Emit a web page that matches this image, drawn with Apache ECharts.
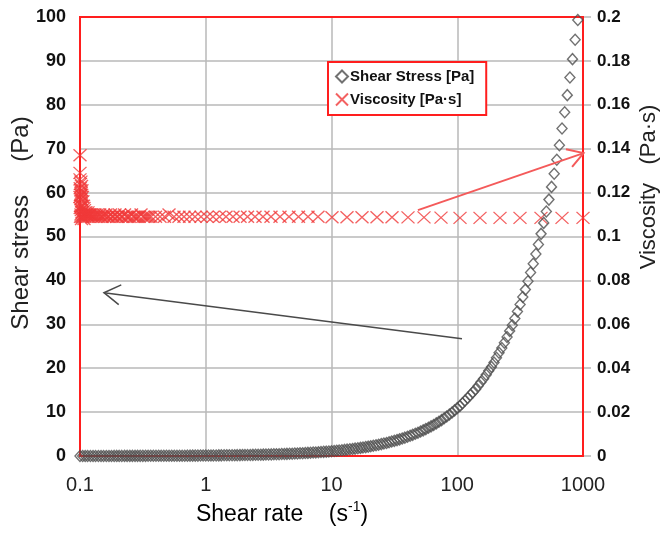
<!DOCTYPE html>
<html><head><meta charset="utf-8">
<script src="https://cdn.jsdelivr.net/npm/echarts/dist/echarts.min.js"></script>
<style>html,body{margin:0;padding:0;background:#fff}#c{width:663px;height:533px}</style>
</head><body><div id="c"></div>
<script>
// Shear stress series (shear rate in 1/s, stress in Pa)
const stressRate = [
0.1,0.105,0.11,0.115,0.121,0.127,0.133,0.14,0.147,0.154,0.162,0.17,0.178,0.187,0.196,0.205,0.215,0.226,0.237,0.249,0.261,0.274,0.287,0.301,0.316,0.332,0.348,0.365,0.383,0.402,0.422,0.442,0.464,0.487,0.511,0.536,0.562,0.59,0.619,0.649,0.681,0.715,0.75,0.787,0.825,0.866,0.909,0.953,
1,1.05,1.1,1.15,1.21,1.27,1.33,1.4,1.47,1.54,1.62,1.7,1.78,1.87,1.96,2.05,2.15,2.26,2.37,2.49,2.61,2.74,2.87,3.01,3.16,3.32,3.48,3.65,3.83,4.02,4.22,4.42,4.64,4.87,5.11,5.36,5.62,5.9,6.19,6.49,6.81,7.15,7.5,7.87,8.25,8.66,9.09,9.53,
10,10.5,11,11.5,12.1,12.7,13.3,14,14.7,15.4,16.2,17,17.8,18.7,19.6,20.5,21.5,22.6,23.7,24.9,26.1,27.4,28.7,30.1,31.6,33.2,34.8,36.5,38.3,40.2,42.2,44.2,46.4,48.7,51.1,53.6,56.2,59,61.9,64.9,68.1,71.5,75,78.7,82.5,86.6,90.9,95.3,
100,105,110,115,121,127,133,140,147,154,162,170,178,187,196,205,215,226,237,249,261,274,287,301,316,332,348,365,383,402,422,442,464,487,511,536,562,590,619,649,681,715,750,787,825,866,909];
const stressVal = [
0.011,0.011,0.012,0.013,0.013,0.014,0.015,0.015,0.016,0.017,0.018,0.018,0.019,0.02,0.021,0.022,0.023,0.025,0.026,0.027,0.028,0.03,0.031,0.033,0.034,0.036,0.038,0.04,0.042,0.044,0.046,0.048,0.051,0.053,0.056,0.058,0.061,0.064,0.067,0.071,0.074,0.078,0.082,0.086,0.09,0.094,0.099,0.104,
0.109,0.114,0.12,0.126,0.132,0.139,0.145,0.152,0.16,0.168,0.176,0.185,0.194,0.203,0.213,0.224,0.235,0.246,0.258,0.271,0.285,0.298,0.313,0.329,0.345,0.362,0.379,0.398,0.418,0.438,0.46,0.482,0.506,0.531,0.557,0.584,0.613,0.643,0.675,0.708,0.743,0.779,0.817,0.858,0.9,0.944,0.99,1.04,
1.09,1.14,1.2,1.26,1.32,1.39,1.45,1.52,1.6,1.68,1.76,1.85,1.94,2.03,2.13,2.24,2.35,2.46,2.58,2.71,2.85,2.98,3.13,3.29,3.45,3.62,3.79,3.98,4.18,4.38,4.6,4.82,5.06,5.31,5.57,5.84,6.13,6.43,6.75,7.08,7.43,7.79,8.17,8.58,9.0,9.44,9.9,10.4,
10.9,11.4,12.0,12.6,13.2,13.9,14.5,15.2,16.0,16.8,17.6,18.5,19.4,20.3,21.3,22.4,23.5,24.6,25.8,27.1,28.5,29.8,31.3,32.9,34.5,36.2,37.9,39.8,41.8,43.8,46.0,48.2,50.6,53.1,55.7,58.4,61.3,64.3,67.5,70.8,74.6,78.3,82.2,86.2,90.4,94.8,99.3];

// Viscosity series (shear rate in 1/s, viscosity in Pa·s)
const viscRate = [
0.1,0.1,0.1,0.1,0.1004,0.1004,0.1009,0.1009,0.1009,0.1013,0.1013,0.1018,0.1018,0.1018,0.1023,0.1023,0.1028,0.1028,0.1028,0.1032,0.1032,0.1037,0.1037,0.1037,
0.1046,0.1046,0.1056,0.1056,0.1066,0.1066,0.1076,0.1076,0.1086,0.1096,0.1096,0.1106,0.1116,0.1126,0.1137,0.1147,0.1158,0.1168,0.1179,0.119,0.1201,
0.1223,0.1246,0.1269,0.1292,0.1316,0.1341,0.1372,0.1403,0.1436,0.1469,0.1503,0.1538,0.1574,0.161,0.1655,0.1701,0.1749,0.1797,0.1847,0.1898,0.1951,0.2005,0.2061,0.2118,0.2188,0.226,0.2334,0.2409,0.2488,0.2568,0.2652,0.2738,0.2841,0.2946,0.3057,0.317,0.3289,0.3411,0.3538,0.3669,
0.3985,0.4328,0.4699,0.5104,0.5592,0.6128,0.6714,0.7428,0.8214,0.9167,1.023,1.142,1.287,1.449,1.647,1.873,2.148,2.465,2.853,3.303,
3.895,4.592,5.465,6.504,7.808,10.09,13.28,17.48,23.01,30.28,40.59,54.4,74.28,105.2,151.7,218.8,315.5,463.4,680.8,1000];
const viscVal = [
0.137,0.129,0.126,0.118,0.122,0.113,0.124,0.119,0.109,0.121,0.114,0.125,0.117,0.110,0.120,0.112,0.123,0.116,0.108,0.119,0.111,0.121,0.114,0.109,
0.118,0.111,0.116,0.109,0.114,0.110,0.113,0.108,0.112,0.111,0.109,0.110,0.111,0.110,0.110,0.109,0.111,0.110,0.109,0.110,0.110,
0.110,0.109,0.110,0.109,0.110,0.109,0.110,0.109,0.110,0.109,0.109,0.110,0.109,0.110,0.109,0.109,0.110,0.109,0.109,0.110,0.109,0.109,0.110,0.109,0.109,0.110,0.109,0.109,0.109,0.110,0.109,0.109,0.109,0.109,0.110,0.109,0.109,0.109,0.109,0.109,
0.109,0.109,0.109,0.110,0.109,0.109,0.109,0.109,0.109,0.109,0.109,0.109,0.109,0.109,0.109,0.109,0.109,0.109,0.109,0.109,
0.109,0.109,0.109,0.109,0.109,0.1088,0.1088,0.1088,0.1088,0.1088,0.1087,0.1087,0.1086,0.1085,0.1085,0.1085,0.1085,0.1085,0.1085,0.1085];

const xTicks = [0.1, 1, 10, 100, 1000];
const leftTicks = [0,10,20,30,40,50,60,70,80,90,100];
const rightTicks = ['0','0.02','0.04','0.06','0.08','0.1','0.12','0.14','0.16','0.18','0.2'];
const seriesNames = ['Shear Stress [Pa]', 'Viscosity [Pa·s]'];

const crossPath = 'path://M0,0L10,10M10,0L0,10';
const chart = echarts.init(document.getElementById('c'), null, {renderer:'canvas'});
const FONT = 'Liberation Sans, Arial, sans-serif';
const RED = '#ff1e1e';

chart.setOption({
  animation: false,
  backgroundColor: '#fff',
  grid: {left: 80, right: 80, top: 17, bottom: 77, show: false, containLabel: false},
  legend: {
    orient: 'vertical', left: 328, top: 62, padding: [7, 12, 8, 7], itemGap: 8,
    backgroundColor: '#fff', borderColor: RED, borderWidth: 2, borderRadius: 0,
    itemWidth: 12, itemHeight: 12, z: 20,
    textStyle: {fontFamily: FONT, fontWeight: 'bold', fontSize: 15, color: '#111', padding: [0,0,0,-3]},
    data: [{name: seriesNames[0], icon: 'diamond'}, {name: seriesNames[1], icon: crossPath}]
  },
  xAxis: {
    type: 'log', logBase: 10, min: xTicks[0], max: xTicks[xTicks.length-1],
    axisLine: {show: false}, axisTick: {show: false},
    axisLabel: {fontFamily: FONT, fontSize: 20, color: '#222', margin: 19, formatter: v => String(xTicks.find(t => Math.abs(Math.log10(t) - Math.log10(v)) < 1e-6) ?? v)},
    splitLine: {show: true, lineStyle: {color: '#b8b8b8', width: 1.5}},
    minorTick: {show: false}
  },
  yAxis: [{
    type: 'value', min: leftTicks[0], max: leftTicks[leftTicks.length-1], interval: 10,
    axisLine: {show: false}, axisTick: {show: false},
    axisLabel: {fontFamily: FONT, fontSize: 18, fontWeight: 'bold', color: '#111', margin: 14},
    splitLine: {show: true, lineStyle: {color: '#b8b8b8', width: 1.5}}
  }, {
    type: 'value', min: 0, max: 0.2, interval: 0.02, position: 'right',
    axisLine: {show: false},
    axisTick: {show: true, length: 8, inside: false, lineStyle: {color: '#b8b8b8', width: 1.5}},
    axisLabel: {fontFamily: FONT, fontSize: 17, fontWeight: 'bold', color: '#111', margin: 14,
      formatter: (v, i) => rightTicks[i]},
    splitLine: {show: false}
  }],
  series: [{
    name: seriesNames[0], type: 'scatter', yAxisIndex: 0, symbol: 'diamond', symbolSize: [10, 11],
    itemStyle: {color: 'rgba(255,255,255,0)', borderColor: '#4d4d4d', borderWidth: 1.4},
    data: stressRate.map((r, i) => [r, stressVal[i]]), z: 4
  }, {
    name: seriesNames[1], type: 'scatter', yAxisIndex: 1, symbol: crossPath, symbolSize: [13, 12],
    itemStyle: {color: 'rgba(255,255,255,0)', borderColor: '#f03a3a', borderWidth: 1.3},
    data: viscRate.map((r, i) => [r, viscVal[i]]), z: 3
  }]
});

// Annotation arrows, anchored in data coordinates of the left axis
function arrow(from, to, color, width, len) {
  const a = chart.convertToPixel({xAxisIndex: 0, yAxisIndex: 0}, from);
  const b = chart.convertToPixel({xAxisIndex: 0, yAxisIndex: 0}, to);
  const ang = Math.atan2(a[1]-b[1], a[0]-b[0]);
  const s = 0.55;
  const p1 = [b[0] + len*Math.cos(ang+s), b[1] + len*Math.sin(ang+s)];
  const p2 = [b[0] + len*Math.cos(ang-s), b[1] + len*Math.sin(ang-s)];
  return [
    {type: 'polyline', shape: {points: [a, b]}, style: {stroke: color, lineWidth: width, fill: null}, z: 10},
    {type: 'polyline', shape: {points: [p1, b, p2]}, style: {stroke: color, lineWidth: width, fill: null}, z: 10}
  ];
}
// plot-area frame from the axis extents
const tl = chart.convertToPixel({xAxisIndex: 0, yAxisIndex: 0}, [xTicks[0], leftTicks[leftTicks.length-1]]);
const br = chart.convertToPixel({xAxisIndex: 0, yAxisIndex: 0}, [xTicks[xTicks.length-1], leftTicks[0]]);
const g = [].concat(
  [{type: 'rect', shape: {x: tl[0], y: tl[1], width: br[0]-tl[0], height: br[1]-tl[1]},
    style: {stroke: RED, lineWidth: 2, fill: null}, z: 1}],
  arrow([109, 26.7], [0.155, 37.2], '#4a4a4a', 1.5, 19),
  arrow([48.7, 56.0], [1010, 69.0], '#f45a5a', 2, 18),
  [
    {type: 'text', x: 21, y: 223, rotation: Math.PI/2,
     style: {text: 'Shear stress     (Pa)', font: '24px ' + FONT, fill: '#222', textAlign: 'center', textVerticalAlign: 'middle'}},
    {type: 'text', x: 649, y: 187, rotation: Math.PI/2,
     style: {text: 'Viscosity   (Pa·s)', font: '22px ' + FONT, fill: '#222', textAlign: 'center', textVerticalAlign: 'middle'}},
    {type: 'text', x: 282, y: 513,
     style: {text: '{a|Shear rate    (s}{sup|-1}{a|)}', textAlign: 'center', textVerticalAlign: 'middle',
       rich: {a: {fontFamily: FONT, fontSize: 23, color: '#222', lineHeight: 26, verticalAlign: 'bottom'},
              sup: {fontFamily: FONT, fontSize: 14, color: '#222', lineHeight: 26, verticalAlign: 'top'}}}}
  ]
);
chart.setOption({graphic: g});
</script>
</body></html>
